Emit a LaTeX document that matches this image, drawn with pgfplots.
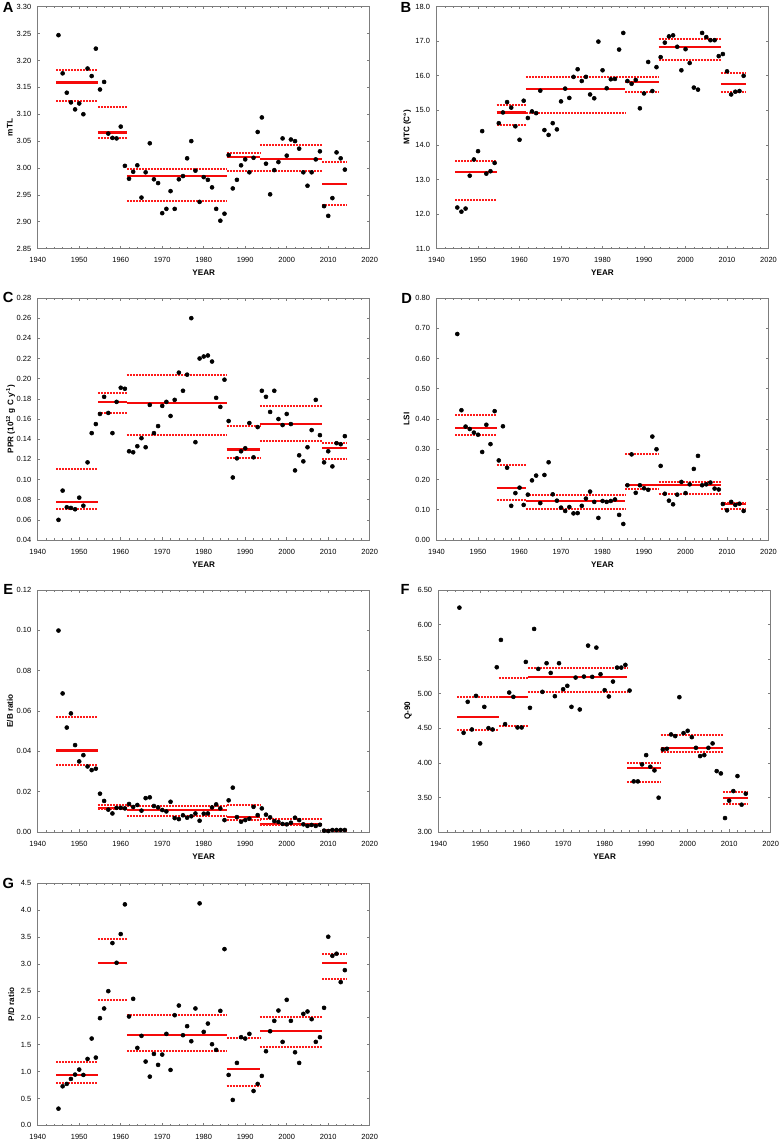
\documentclass[border=0pt]{standalone}
\usepackage{fontspec}
\setmainfont{Liberation Sans}
\usepackage{pgfplots}
\usepackage{pgfplotstable}
\pgfplotsset{compat=1.18}
\definecolor{meanred}{RGB}{245,10,10}
\definecolor{cired}{RGB}{255,25,25}
\definecolor{framegray}{RGB}{125,125,125}

\pgfplotstableread{
year A B C D E F G
1945 3.247 12.19 0.060 0.681 0.0999 6.245 0.310
1946 3.176 12.07 0.089 0.429 0.0687 4.435 0.726
1947 3.140 12.16 0.0725 0.375 0.0518 4.883 0.770
1948 3.122 13.11 0.0718 0.367 0.0588 4.483 0.863
1949 3.109 13.58 0.0705 0.355 0.0431 4.969 0.944
1950 3.120 13.82 0.082 0.348 0.0350 4.281 1.037
1951 3.100 14.40 0.074 0.291 0.0381 4.810 0.937
1952 3.185 13.17 0.117 0.381 0.0325 4.502 1.235
1953 3.171 13.24 0.146 0.317 0.0307 4.483 1.614
1954 3.222 13.48 0.155 0.426 0.0314 5.383 1.260
1955 3.146 14.63 0.165 0.263 0.0190 5.778 1.993
1956 3.160 14.94 0.182 0.376 0.0154 4.560 2.173
1957 3.064 15.24 0.166 0.239 0.0111 5.017 2.495
1958 3.056 15.08 0.146 0.113 0.0092 4.955 3.389
1959 3.055 14.54 0.177 0.155 0.0120 4.512 3.023
1960 3.077 14.15 0.191 0.173 0.0120 4.512 3.557
1961 3.004 15.28 0.190 0.116 0.0117 5.460 4.109
1962 2.980 14.78 0.128 0.150 0.0139 4.796 2.024
1963 2.993 14.97 0.127 0.197 0.0124 5.937 2.353
1964 3.005 14.92 0.133 0.213 0.0134 5.359 1.440
1965 2.945 15.57 0.141 0.122 0.0106 5.027 1.664
1966 2.992 14.43 0.132 0.215 0.0168 5.441 1.186
1967 3.046 14.29 0.174 0.257 0.0172 5.301 0.906
1968 2.979 14.63 0.146 0.151 0.0129 4.964 1.328
1969 2.972 14.45 0.153 0.130 0.0122 5.441 1.124
1970 2.916 15.26 0.173 0.107 0.0109 5.065 1.316
1971 2.924 15.63 0.177 0.096 0.0102 5.114 1.701
1972 2.957 15.36 0.163 0.109 0.0150 4.810 1.030
1973 2.924 15.97 0.179 0.088 0.0069 5.234 2.048
1974 2.979 16.19 0.206 0.089 0.0064 4.772 2.228
1975 2.985 15.85 0.188 0.113 0.0083 5.248 1.676
1976 3.018 15.97 0.204 0.137 0.0071 5.696 1.844
1977 3.050 15.46 0.260 0.160 0.0078 5.244 1.564
1978 2.995 15.35 0.137 0.126 0.0092 5.667 2.173
1979 2.937 16.99 0.220 0.073 0.0056 5.282 4.128
1980 2.983 16.16 0.222 0.129 0.0091 5.051 1.738
1981 2.978 15.64 0.223 0.126 0.0092 4.960 1.893
1982 2.964 15.90 0.217 0.129 0.0122 5.176 1.508
1983 2.924 15.91 0.181 0.134 0.0137 5.378 1.403
1984 2.902 16.76 0.172 0.083 0.0117 5.378 2.129
1985 2.915 17.24 0.199 0.053 0.0059 5.417 3.277
1986 3.024 15.85 0.158 0.181 0.0157 5.046 0.937
1987 2.962 15.77 0.102 0.283 0.0220 3.732 0.472
1988 2.978 15.88 0.121 0.156 0.0074 3.732 1.161
1989 3.005 15.06 0.128 0.181 0.0051 3.977 1.639
1990 3.016 15.49 0.131 0.171 0.0059 4.112 1.614
1991 2.992 16.40 0.156 0.166 0.0066 3.944 1.701
1992 3.019 15.56 0.122 0.342 0.0125 3.891 0.639
1993 3.067 16.25 0.152 0.300 0.0084 3.496 0.770
1994 3.094 16.54 0.188 0.245 0.0117 4.194 0.919
1995 3.008 16.96 0.182 0.153 0.0086 4.204 1.378
1996 2.951 17.14 0.167 0.130 0.0073 4.411 1.750
1997 2.996 17.17 0.188 0.118 0.0054 4.387 1.943
1998 3.011 16.84 0.160 0.150 0.0050 4.950 2.135
1999 3.055 16.16 0.154 0.192 0.0040 4.430 1.552
2000 3.023 16.77 0.165 0.155 0.0038 4.464 2.334
2001 3.053 16.37 0.155 0.184 0.0046 4.372 1.943
2002 3.050 15.66 0.109 0.235 0.0071 4.218 1.359
2003 3.036 15.60 0.124 0.278 0.0059 4.098 1.161
2004 2.992 17.24 0.118 0.181 0.0038 4.112 2.073
2005 2.967 17.12 0.132 0.184 0.0030 4.218 2.117
2006 2.992 17.03 0.149 0.190 0.0035 4.281 1.974
2007 3.016 17.03 0.179 0.170 0.0030 3.881 1.552
2008 3.031 16.57 0.144 0.167 0.0036 3.847 1.639
2009 2.929 16.63 0.117 0.119 0.0007 3.202 2.185
2010 2.911 16.13 0.128 0.098 0.0005 3.453 3.507
2011 2.944 15.46 0.113 0.126 0.0010 3.592 3.153
2012 3.029 15.54 0.136 0.116 0.0010 3.809 3.191
2013 3.018 15.56 0.135 0.120 0.0010 3.395 2.663
2014 2.997 16.00 0.143 0.096 0.0010 3.554 2.886
}\data

\pgfplotsset{
  panel/.style={
    scale only axis, width=249pt, height=181.5pt, anchor=north west,
    xmin=1940, xmax=2020, xtick={1940,1950,1960,1970,1980,1990,2000,2010,2020},
    minor x tick num=4,
    tick align=inside,
    major tick length=2pt, minor tick length=1.3pt,
    axis line style={draw=framegray, line width=0.6pt},
    every tick/.style={framegray, line width=0.5pt},
    tick label style={font=\fontsize{5.6}{6.5}\selectfont},
    /pgf/number format/assume math mode=true,
    scaled y ticks=false,
    xticklabel style={/pgf/number format/1000 sep={}, yshift=-3.1pt},
    yticklabel style={xshift=-1.4pt},
    xlabel style={font=\fontsize{6.1}{7}\selectfont\bfseries, at={(axis description cs:0.5,-0.101)}, anchor=center},
    clip=false,
  },
  prec/.style={yticklabel style={/pgf/number format/.cd, fixed, fixed zerofill, precision=#1}},
  ptstyle/.style={only marks, mark=*, mark size=1.5pt, color=black},
  meanln/.style={color=meanred, line width=1.6pt, no marks, solid},
  ciln/.style={color=cired, line width=1.5pt, no marks, line cap=butt, dash pattern=on 1.5pt off 0.75pt},
}

\newcommand\seg[5]{%
  \addplot[meanln] coordinates {(#1,#3) (#2,#3)};
  \addplot[ciln] coordinates {(#1,#4) (#2,#4)};
  \addplot[ciln] coordinates {(#1,#5) (#2,#5)};
}
\newcommand\allsegs[6]{%
  \seg{1944.5}{1954.5}#1
  \seg{1954.5}{1961.5}#2
  \seg{1961.5}{1985.5}#3
  \seg{1985.5}{1993.5}#4
  \seg{1993.5}{2008.5}#5
  \seg{2008.5}{2014.5}#6
}
\newcommand\yl[3]{\node[rotate=90, anchor=center, font=\fontsize{6.1}{7}\selectfont\bfseries] at (#1,#2) {#3};}
\newcommand\pl[3]{\node[font=\fontsize{11}{12}\selectfont\bfseries] at (#1,#2) {#3};}

\begin{document}
\begin{tikzpicture}
\useasboundingbox (0,0) rectangle (586.5pt,-855pt);

% ---------- A ----------
\begin{axis}[panel, at={(28.3pt,-5pt)}, prec=2,
  ymin=2.85, ymax=3.30, ytick={2.85,2.90,2.95,3.00,3.05,3.10,3.15,3.20,3.25,3.30},
  xlabel={YEAR}]
\allsegs{{3.159}{3.183}{3.124}}{{3.066}{3.113}{3.056}}{{2.985}{2.998}{2.939}}{{3.021}{3.027}{2.995}}{{3.016}{3.042}{2.995}}{{2.971}{3.011}{2.932}}
\addplot[ptstyle] table[x=year,y=A]{\data};
\end{axis}
\pl{6.2pt}{-5.5pt}{A}
\yl{7.3pt}{-95.6pt}{mTL}

% ---------- B ----------
\begin{axis}[panel, at={(327.4pt,-5pt)}, prec=1,
  ymin=11, ymax=18, ytick={11,12,13,14,15,16,17,18},
  xlabel={YEAR}]
\allsegs{{13.22}{13.55}{12.41}}{{14.94}{15.15}{14.57}}{{15.61}{15.97}{14.93}}{{15.81}{15.97}{15.53}}{{16.84}{17.07}{16.45}}{{15.77}{16.09}{15.53}}
\addplot[ptstyle] table[x=year,y=B]{\data};
\end{axis}
\pl{304.5pt}{-5.5pt}{B}
\yl{305.5pt}{-95.6pt}{MTC (C°)}

% ---------- C ----------
\begin{axis}[panel, at={(28.3pt,-223.5pt)}, prec=2,
  ymin=0.04, ymax=0.28, ytick={0.04,0.06,0.08,0.10,0.12,0.14,0.16,0.18,0.20,0.22,0.24,0.26,0.28},
  xlabel={YEAR}]
\allsegs{{0.0778}{0.110}{0.0711}}{{0.1766}{0.1855}{0.1656}}{{0.1756}{0.204}{0.1437}}{{0.1298}{0.1527}{0.1216}}{{0.1547}{0.1726}{0.1378}}{{0.1315}{0.1358}{0.1199}}
\addplot[ptstyle] table[x=year,y=C]{\data};
\end{axis}
\pl{6.2pt}{-223pt}{C}
\yl{8pt}{-314.2pt}{PPR (10\textsuperscript{12} g C y\textsuperscript{-1})}

% ---------- D ----------
\begin{axis}[panel, at={(327.4pt,-223.5pt)}, prec=2,
  ymin=0, ymax=0.8, ytick={0,0.1,0.2,0.3,0.4,0.5,0.6,0.7,0.8},
  xlabel={YEAR}]
\allsegs{{0.369}{0.414}{0.348}}{{0.173}{0.249}{0.133}}{{0.129}{0.149}{0.104}}{{0.182}{0.285}{0.167}}{{0.182}{0.191}{0.152}}{{0.118}{0.123}{0.101}}
\addplot[ptstyle] table[x=year,y=D]{\data};
\end{axis}
\pl{305pt}{-223.7pt}{D}
\yl{305pt}{-314.2pt}{LSI}

% ---------- E ----------
\begin{axis}[panel, at={(28.3pt,-442.5pt)}, prec=2,
  ymin=0, ymax=0.12, ytick={0,0.02,0.04,0.06,0.08,0.10,0.12},
  xlabel={YEAR}]
\allsegs{{0.0404}{0.0571}{0.0330}}{{0.0120}{0.0134}{0.0114}}{{0.0109}{0.0129}{0.0081}}{{0.0076}{0.0132}{0.0059}}{{0.0041}{0.0064}{0.0036}}{{0.0009}{0.0012}{0.0006}}
\addplot[ptstyle] table[x=year,y=E]{\data};
\end{axis}
\pl{6.2pt}{-442pt}{E}
\yl{7.5pt}{-533.2pt}{E/B ratio}

% ---------- F ----------
\begin{axis}[panel, at={(329pt,-442.5pt)}, prec=2,
  ymin=3, ymax=6.5, ytick={3,3.5,4,4.5,5,5.5,6,6.5},
  xlabel={YEAR}]
\allsegs{{4.661}{4.950}{4.478}}{{4.955}{5.234}{4.536}}{{5.248}{5.378}{5.032}}{{3.920}{4.001}{3.722}}{{4.213}{4.401}{4.156}}{{3.496}{3.578}{3.404}}
\addplot[ptstyle] table[x=year,y=F]{\data};
\end{axis}
\pl{303.75pt}{-442pt}{F}
\yl{306pt}{-533.2pt}{Q-90}

% ---------- G ----------
\begin{axis}[panel, at={(28.3pt,-662.5pt)}, prec=1,
  ymin=0, ymax=4.5, ytick={0,0.5,1,1.5,2,2.5,3,3.5,4,4.5}]
\allsegs{{0.937}{1.179}{0.782}}{{3.023}{3.464}{2.322}}{{1.682}{2.055}{1.384}}{{1.049}{1.620}{0.732}}{{1.750}{2.011}{1.465}}{{3.023}{3.184}{2.713}}
\addplot[ptstyle] table[x=year,y=G]{\data};
\end{axis}
\pl{6.2pt}{-662.5pt}{G}
\yl{8.5pt}{-753.3pt}{P/D ratio}
\end{tikzpicture}
\end{document}
